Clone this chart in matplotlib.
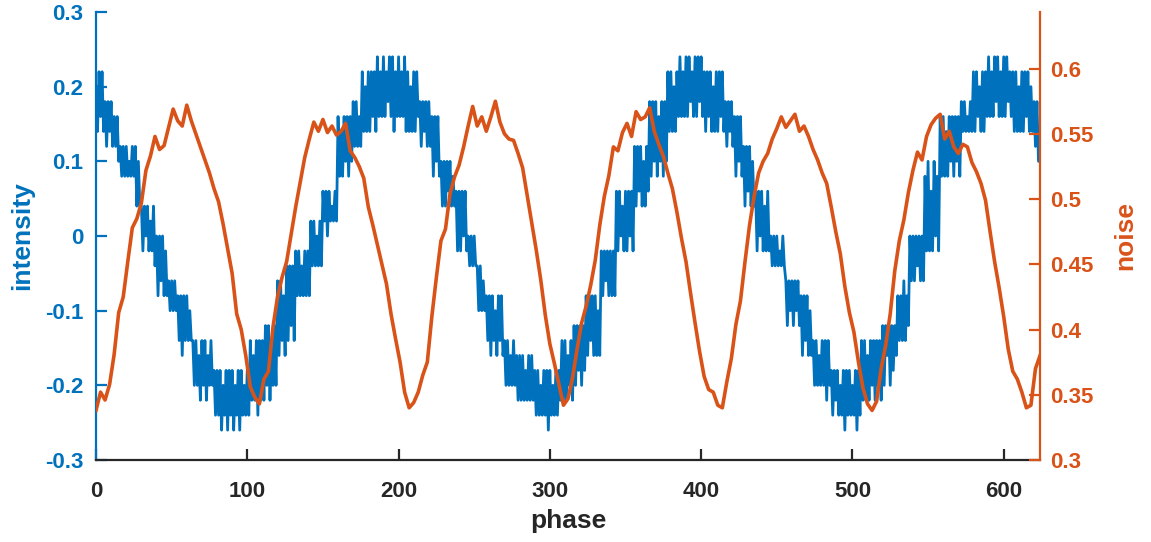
import numpy as np
import matplotlib
matplotlib.use("Agg")
import matplotlib.pyplot as plt

plt.rcParams['font.family'] = ['Liberation Sans', 'DejaVu Sans']
plt.rcParams['font.weight'] = 'bold'

# ---------------- data ----------------
phase_intensity = np.arange(0, 625, 1)
intensity = [
    0.20, 0.14, 0.22, 0.16, 0.22, 0.14, 0.18, 0.12, 0.18, 0.14,
    0.18, 0.12, 0.16, 0.12, 0.16, 0.10, 0.12, 0.08, 0.12, 0.08,
    0.12, 0.08, 0.10, 0.08, 0.12, 0.08, 0.12, 0.04, 0.10, 0.04,
    0.04, -0.02, 0.04, 0.00, 0.04, -0.02, 0.02, -0.02, 0.04, -0.04,
    0.00, -0.08, 0.00, -0.06, 0.00, -0.08, -0.02, -0.08, -0.06, -0.10,
    -0.06, -0.10, -0.06, -0.10, -0.08, -0.14, -0.08, -0.16, -0.08, -0.14,
    -0.08, -0.14, -0.10, -0.14, -0.14, -0.20, -0.14, -0.20, -0.16, -0.22,
    -0.14, -0.20, -0.14, -0.22, -0.16, -0.20, -0.14, -0.20, -0.18, -0.24,
    -0.18, -0.24, -0.18, -0.26, -0.20, -0.24, -0.18, -0.26, -0.18, -0.24,
    -0.18, -0.26, -0.20, -0.24, -0.18, -0.26, -0.18, -0.24, -0.20, -0.24,
    -0.18, -0.24, -0.14, -0.22, -0.16, -0.22, -0.14, -0.24, -0.14, -0.22,
    -0.14, -0.22, -0.12, -0.20, -0.12, -0.22, -0.14, -0.20, -0.12, -0.20,
    -0.06, -0.16, -0.06, -0.14, -0.08, -0.16, -0.04, -0.14, -0.04, -0.12,
    -0.04, -0.14, -0.02, -0.08, -0.02, -0.08, -0.04, -0.08, -0.02, -0.08,
    -0.02, -0.08, 0.02, -0.04, 0.02, -0.04, 0.00, -0.04, 0.02, -0.04,
    0.06, 0.02, 0.06, 0.00, 0.06, 0.02, 0.04, 0.02, 0.06, 0.02,
    0.16, 0.08, 0.14, 0.08, 0.16, 0.10, 0.16, 0.08, 0.16, 0.10,
    0.18, 0.12, 0.18, 0.12, 0.16, 0.12, 0.22, 0.14, 0.20, 0.14,
    0.22, 0.14, 0.22, 0.16, 0.22, 0.14, 0.24, 0.16, 0.22, 0.16,
    0.24, 0.16, 0.22, 0.18, 0.24, 0.16, 0.24, 0.14, 0.22, 0.16,
    0.24, 0.16, 0.22, 0.16, 0.24, 0.14, 0.22, 0.14, 0.20, 0.14,
    0.22, 0.14, 0.22, 0.16, 0.18, 0.12, 0.18, 0.14, 0.18, 0.12,
    0.18, 0.12, 0.16, 0.08, 0.16, 0.10, 0.16, 0.08, 0.10, 0.04,
    0.10, 0.04, 0.10, 0.06, 0.10, 0.04, 0.08, 0.04, 0.06, -0.02,
    0.06, -0.02, 0.06, 0.00, 0.06, -0.02, 0.00, -0.04, 0.00, -0.04,
    0.00, -0.04, -0.04, -0.10, -0.04, -0.10, -0.06, -0.10, -0.08, -0.14,
    -0.08, -0.16, -0.08, -0.14, -0.10, -0.16, -0.08, -0.14, -0.08, -0.16,
    -0.14, -0.20, -0.14, -0.20, -0.16, -0.20, -0.14, -0.20, -0.16, -0.22,
    -0.16, -0.22, -0.16, -0.22, -0.18, -0.22, -0.16, -0.22, -0.16, -0.22,
    -0.18, -0.24, -0.18, -0.24, -0.20, -0.24, -0.18, -0.24, -0.18, -0.26,
    -0.18, -0.24, -0.20, -0.24, -0.18, -0.24, -0.18, -0.22, -0.14, -0.22,
    -0.14, -0.22, -0.16, -0.20, -0.14, -0.22, -0.12, -0.20, -0.12, -0.18,
    -0.12, -0.20, -0.12, -0.18, -0.08, -0.16, -0.08, -0.14, -0.08, -0.16,
    -0.08, -0.16, -0.10, -0.16, -0.02, -0.08, -0.02, -0.06, -0.02, -0.08,
    -0.02, -0.08, -0.02, -0.08, 0.06, -0.02, 0.06, 0.00, 0.04, -0.02,
    0.06, -0.02, 0.06, 0.00, 0.06, -0.02, 0.12, 0.04, 0.12, 0.06,
    0.12, 0.04, 0.10, 0.04, 0.12, 0.06, 0.18, 0.08, 0.18, 0.10,
    0.18, 0.08, 0.16, 0.10, 0.18, 0.08, 0.18, 0.10, 0.22, 0.14,
    0.22, 0.14, 0.20, 0.14, 0.22, 0.16, 0.24, 0.16, 0.22, 0.16,
    0.24, 0.16, 0.24, 0.18, 0.22, 0.16, 0.24, 0.16, 0.24, 0.18,
    0.24, 0.16, 0.22, 0.14, 0.22, 0.16, 0.22, 0.14, 0.20, 0.14,
    0.22, 0.14, 0.22, 0.16, 0.22, 0.14, 0.18, 0.12, 0.18, 0.14,
    0.18, 0.12, 0.16, 0.08, 0.16, 0.10, 0.16, 0.08, 0.12, 0.04,
    0.12, 0.06, 0.12, 0.04, 0.10, 0.04, 0.06, -0.02, 0.06, 0.00,
    0.06, -0.02, 0.04, -0.02, 0.06, -0.02, 0.00, -0.04, 0.00, -0.04,
    0.00, -0.04, -0.02, -0.04, 0.00, -0.04, -0.06, -0.12, -0.06, -0.10,
    -0.06, -0.12, -0.06, -0.10, -0.06, -0.12, -0.08, -0.16, -0.08, -0.14,
    -0.08, -0.16, -0.10, -0.16, -0.14, -0.20, -0.14, -0.20, -0.16, -0.20,
    -0.14, -0.20, -0.14, -0.22, -0.14, -0.20, -0.18, -0.24, -0.18, -0.22,
    -0.18, -0.24, -0.20, -0.24, -0.18, -0.26, -0.18, -0.24, -0.18, -0.24,
    -0.20, -0.24, -0.18, -0.26, -0.18, -0.24, -0.14, -0.22, -0.14, -0.22,
    -0.16, -0.22, -0.14, -0.20, -0.14, -0.22, -0.14, -0.20, -0.14, -0.22,
    -0.12, -0.20, -0.12, -0.16, -0.12, -0.20, -0.12, -0.18, -0.12, -0.16,
    -0.08, -0.14, -0.08, -0.14, -0.06, -0.14, -0.08, -0.12, 0.00, -0.06,
    0.00, -0.06, 0.00, -0.04, 0.00, -0.06, 0.00, -0.06, 0.08, -0.02,
    0.10, -0.02, 0.06, -0.02, 0.10, 0.00, 0.08, -0.02, 0.16, 0.08,
    0.16, 0.08, 0.14, 0.08, 0.16, 0.10, 0.16, 0.08, 0.16, 0.10,
    0.16, 0.08, 0.18, 0.14, 0.18, 0.14, 0.16, 0.14, 0.18, 0.14,
    0.22, 0.14, 0.22, 0.16, 0.20, 0.14, 0.22, 0.14, 0.22, 0.16,
    0.24, 0.16, 0.22, 0.16, 0.24, 0.18, 0.24, 0.16, 0.22, 0.16,
    0.24, 0.16, 0.24, 0.18, 0.22, 0.16, 0.22, 0.14, 0.22, 0.14,
    0.20, 0.14, 0.22, 0.14, 0.22, 0.16, 0.22, 0.14, 0.20, 0.14,
    0.18, 0.12, 0.18, 0.10, 0.10,
]

phase_noise = np.arange(0, 625, 3)
noise = [
    0.338, 0.352, 0.346, 0.358, 0.381, 0.413, 0.425, 0.452, 0.478, 0.485,
    0.497, 0.522, 0.533, 0.548, 0.538, 0.541, 0.555, 0.569, 0.560, 0.556,
    0.572, 0.560, 0.550, 0.540, 0.530, 0.520, 0.508, 0.498, 0.481, 0.462,
    0.443, 0.412, 0.400, 0.380, 0.356, 0.348, 0.343, 0.362, 0.368, 0.402,
    0.425, 0.440, 0.452, 0.473, 0.494, 0.513, 0.532, 0.546, 0.559, 0.552,
    0.561, 0.551, 0.556, 0.549, 0.552, 0.558, 0.537, 0.532, 0.525, 0.516,
    0.494, 0.480, 0.465, 0.450, 0.435, 0.412, 0.393, 0.375, 0.352, 0.340,
    0.344, 0.352, 0.365, 0.375, 0.410, 0.440, 0.468, 0.477, 0.504, 0.517,
    0.526, 0.540, 0.556, 0.571, 0.556, 0.563, 0.552, 0.563, 0.575, 0.559,
    0.550, 0.546, 0.545, 0.535, 0.524, 0.503, 0.482, 0.461, 0.438, 0.411,
    0.389, 0.374, 0.358, 0.342, 0.347, 0.363, 0.385, 0.405, 0.418, 0.434,
    0.453, 0.480, 0.502, 0.518, 0.540, 0.537, 0.551, 0.558, 0.548, 0.567,
    0.561, 0.563, 0.570, 0.552, 0.542, 0.533, 0.520, 0.508, 0.490, 0.470,
    0.452, 0.428, 0.405, 0.383, 0.364, 0.354, 0.352, 0.342, 0.340, 0.360,
    0.378, 0.404, 0.422, 0.452, 0.480, 0.502, 0.520, 0.529, 0.535, 0.546,
    0.554, 0.563, 0.555, 0.560, 0.565, 0.552, 0.556, 0.548, 0.538, 0.530,
    0.520, 0.512, 0.494, 0.475, 0.458, 0.433, 0.413, 0.398, 0.375, 0.355,
    0.343, 0.338, 0.345, 0.370, 0.388, 0.412, 0.445, 0.468, 0.484, 0.505,
    0.522, 0.536, 0.530, 0.548, 0.557, 0.562, 0.565, 0.546, 0.552, 0.540,
    0.535, 0.542, 0.540, 0.528, 0.521, 0.512, 0.499, 0.475, 0.452, 0.432,
    0.410, 0.385, 0.368, 0.362, 0.352, 0.340, 0.342, 0.370, 0.380,
]

x_ticks = [0, 100, 200, 300, 400, 500, 600]
x_tick_labels = ['0', '100', '200', '300', '400', '500', '600']
left_ticks = [-0.3, -0.2, -0.1, 0.0, 0.1, 0.2, 0.3]
left_tick_labels = ['-0.3', '-0.2', '-0.1', '0', '0.1', '0.2', '0.3']
right_ticks = [0.3, 0.35, 0.4, 0.45, 0.5, 0.55, 0.6]
right_tick_labels = ['0.3', '0.35', '0.4', '0.45', '0.5', '0.55', '0.6']

BLUE = '#0072BD'
ORANGE = '#D95319'
DARK = '#262626'

# ---------------- figure ----------------
fig = plt.figure(figsize=(11.51, 5.42), dpi=100)
ax = fig.add_axes([96 / 1151, 1 - 460 / 542, (1040 - 96) / 1151, (460 - 12) / 542])
ax2 = ax.twinx()

ax.plot(phase_intensity, intensity, color=BLUE, lw=2.0)
ax2.plot(phase_noise, noise, color=ORANGE, lw=2.6)

ax.set_xlim(0, 624)
ax.set_ylim(-0.3, 0.3)
ax2.set_ylim(0.3, 0.6434)

ax.set_xticks(x_ticks)
ax.set_xticklabels(x_tick_labels)
ax.set_yticks(left_ticks)
ax.set_yticklabels(left_tick_labels)
ax2.set_yticks(right_ticks)
ax2.set_yticklabels(right_tick_labels)

for s in ['top', 'right']:
    ax.spines[s].set_visible(False)
for s in ['top', 'left', 'bottom']:
    ax2.spines[s].set_visible(False)
ax.spines['left'].set_color(BLUE)
ax.spines['left'].set_linewidth(1.6)
ax.spines['bottom'].set_color(DARK)
ax.spines['bottom'].set_linewidth(1.6)
ax2.spines['right'].set_color(ORANGE)
ax2.spines['right'].set_linewidth(1.6)

ax.tick_params(axis='x', direction='in', length=8, width=1.6, color=DARK,
               labelcolor=DARK, labelsize=16, pad=15)
ax.tick_params(axis='y', direction='in', length=8, width=1.6, color=BLUE,
               labelcolor=BLUE, labelsize=16, pad=9)
ax2.tick_params(axis='y', direction='in', length=8, width=1.6, color=ORANGE,
                labelcolor=ORANGE, labelsize=16, pad=7)

ax.set_xlabel('phase', fontsize=19, fontweight='bold', color=DARK, va='center')
ax.xaxis.set_label_coords(0.5, (460 - 521) / 448)
ax.set_ylabel('intensity', fontsize=19, fontweight='bold', color=BLUE, va='center')
ax.yaxis.set_label_coords((22 - 96) / 944, 0.5)
ax2.set_ylabel('noise', fontsize=19, fontweight='bold', color=ORANGE, va='center', rotation=90)
ax2.yaxis.set_label_coords((1125 - 96) / 944, 0.5)

for a in (ax, ax2):
    for lab in a.get_xticklabels() + a.get_yticklabels():
        lab.set_fontweight('bold')

fig.savefig('out.png', dpi=100)
